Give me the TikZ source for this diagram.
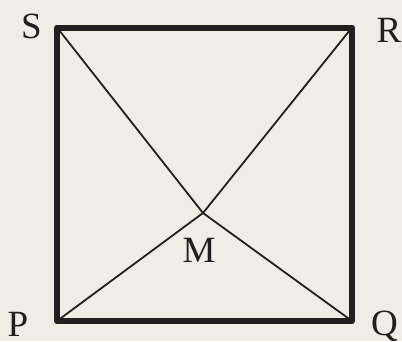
\documentclass[tikz,border=0pt]{standalone}
\usepackage{fontspec}
\setmainfont{Liberation Serif}
\definecolor{bg}{HTML}{F0EDE7}
\definecolor{ink}{HTML}{231F20}
\begin{document}
\begin{tikzpicture}[x=1pt,y=-1pt,
  thickside/.style={draw=ink,line width=6pt,line join=round},
  thinside/.style={draw=ink,line width=1.8pt},
  lbl/.style={text=ink,font=\fontsize{37}{40}\selectfont,inner sep=0pt}]
\fill[bg] (0,0) rectangle (402,341);
\useasboundingbox (0,0) rectangle (402,341);
\coordinate (S) at (57,27.5);
\coordinate (R) at (352,27.5);
\coordinate (P) at (57,321);
\coordinate (Q) at (352,321);
\coordinate (M) at (203,213);
\draw[thinside] (S) -- (M) -- (R);
\draw[thinside] (P) -- (M) -- (Q);
\draw[thickside] (P) -- (Q) -- (R) -- (S) -- cycle;
\node[lbl] (lS) at (31.5,26) {S};
\node[lbl] (lR) at (389,30) {R};
\node[lbl] (lP) at (18,324) {P};
\node[lbl] (lQ) at (384.5,326) {Q};
\node[lbl] (lM) at (199,250) {M};
\end{tikzpicture}
\end{document}
